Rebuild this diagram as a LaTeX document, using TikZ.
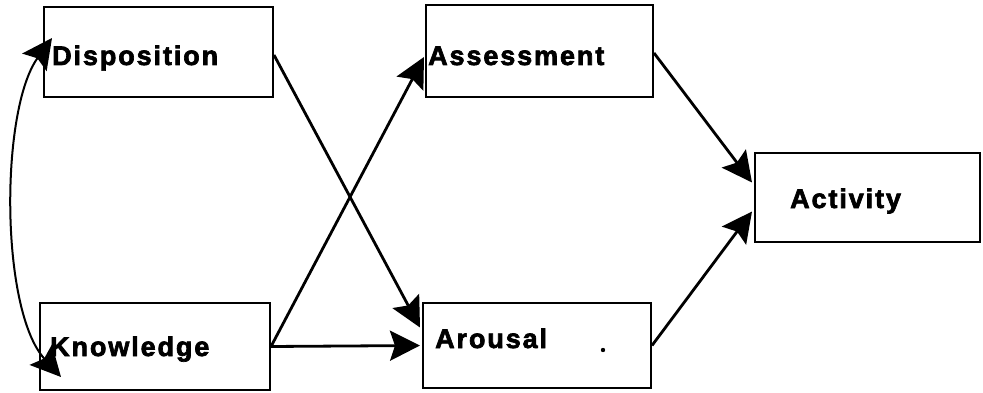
\documentclass[tikz,border=0pt]{standalone}
\usepackage{fontspec}
\setmainfont{Liberation Sans}
\newfontfamily\lblfont[LetterSpace=7,FakeBold=2.5]{Liberation Sans}
\usetikzlibrary{arrows.meta}
\begin{document}
\begin{tikzpicture}[x=1pt,y=-1pt,
  boxnode/.style={draw,line width=2pt,rectangle,inner sep=0pt},
  lbl/.style={anchor=base west,inner sep=0pt,font=\lblfont\bfseries\fontsize{27}{32}\selectfont},
  conn/.style={line width=2.8pt,-{Stealth[length=30pt,width=30pt,inset=5pt]}},
  dconn/.style={line width=2pt,{Stealth[length=30pt,width=30pt,inset=5pt]}-{Stealth[length=30pt,width=30pt,inset=5pt]}}]
\useasboundingbox (0,0) rectangle (983,393);
\node[boxnode,minimum width=229pt,minimum height=90pt] (disp) at (158.5,52) {};
\node[boxnode,minimum width=230pt,minimum height=87pt] (know) at (155,346.5) {};
\node[boxnode,minimum width=227pt,minimum height=92pt] (assess) at (539.5,51) {};
\node[boxnode,minimum width=228pt,minimum height=85pt] (arou) at (537,345.5) {};
\node[boxnode,minimum width=225pt,minimum height=89pt] (act) at (867.5,197.5) {};
\node[lbl] (tdisp) at (52,65) {Disposition};
\node[lbl] (tknow) at (50,356) {Knowledge};
\node[lbl] (tassess) at (428,65) {Assessment};
\node[lbl] (tarou) at (435,348) {Arousal};
\node[lbl] (tact) at (790,208) {Activity};
\fill (603,350) circle (2.2pt);
\draw[conn] ([yshift=-3pt]disp.east) -- ([xshift=-2pt,yshift=18pt]arou.west);
\draw[conn] (know.east) -- ([xshift=-1pt,yshift=-6pt]assess.west);
\draw[conn] (know.east) -- ([xshift=-2pt]arou.west);
\draw[conn] ([yshift=-2pt]assess.east) -- ([xshift=-2pt,yshift=15pt]act.west);
\draw[conn] (arou.east) -- ([xshift=-2pt,yshift=-14pt]act.west);
\draw[dconn] ([xshift=9pt,yshift=14pt]disp.west) .. controls (0,110) and (0,310) .. ([xshift=22pt,yshift=-30.5pt]know.west);
\end{tikzpicture}
\end{document}
